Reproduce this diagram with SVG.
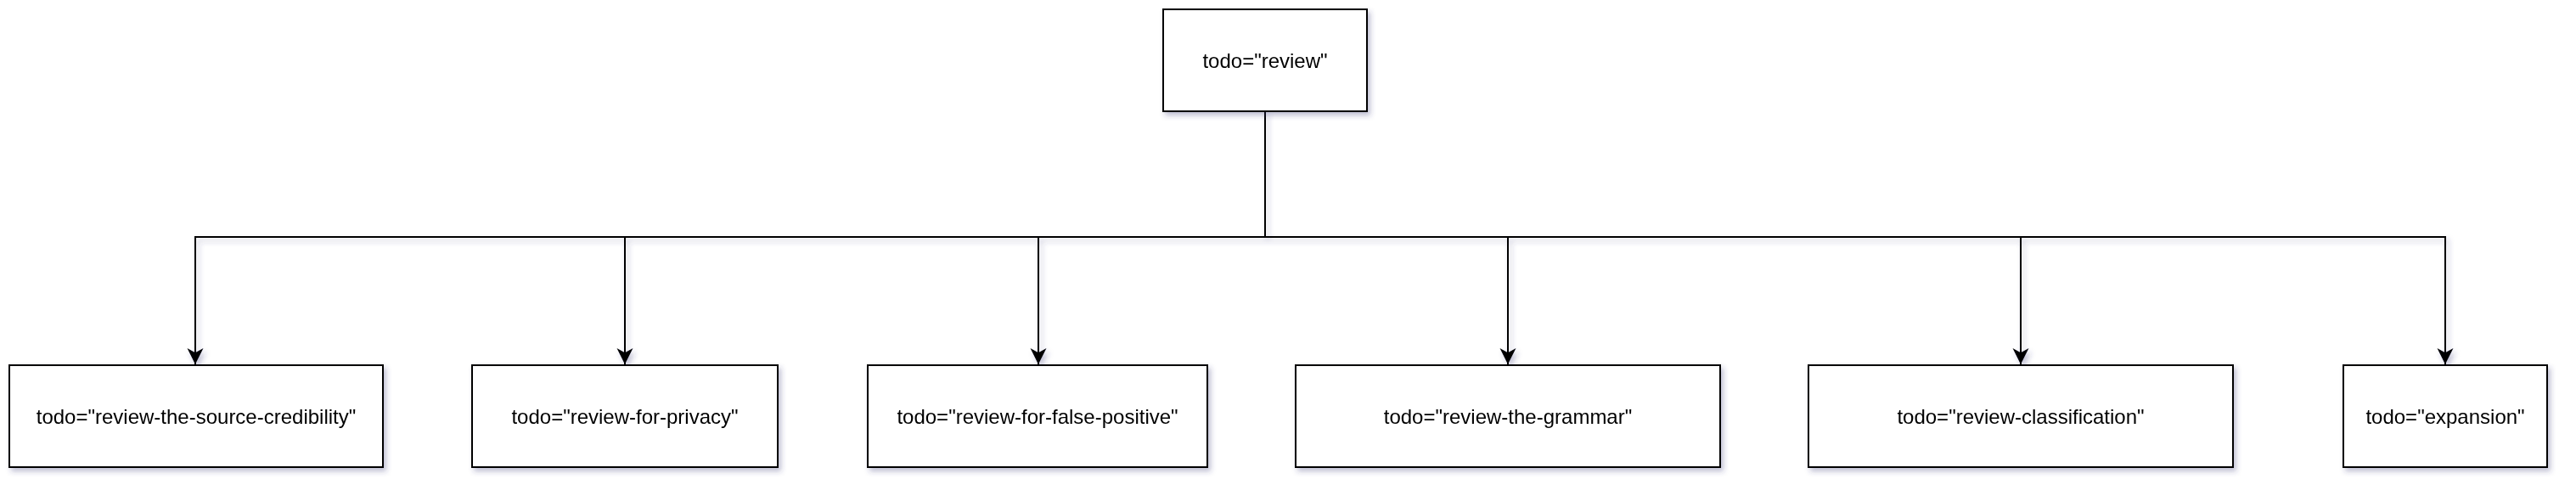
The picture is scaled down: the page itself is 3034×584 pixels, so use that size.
<svg xmlns="http://www.w3.org/2000/svg" width="3034" height="584" viewBox="0 0 3034 584">
<defs>
<style>
.box{fill:#ffffff;stroke:#000000;stroke-width:2}
.lbl{font-family:"Liberation Sans",Arial,sans-serif;font-size:24px;fill:#000000;text-anchor:middle;dominant-baseline:central}
.edge{fill:none;stroke:#000000;stroke-width:2}
</style>
<filter id="sh" x="-10%" y="-10%" width="130%" height="140%">
<feDropShadow dx="3" dy="4" stdDeviation="3" flood-color="#303078" flood-opacity="0.32"/>
</filter>
<marker id="arr" markerUnits="userSpaceOnUse" markerWidth="20" markerHeight="20" refX="18" refY="9" orient="auto" viewBox="0 0 19 18">
<path d="M0,0 L18,9 L0,18 L5,9 Z" fill="#000000"/>
</marker>
</defs>
<rect width="3034" height="584" fill="#ffffff"/>
<g id="connectors" filter="url(#sh)">
<path class="edge" d="M1490,131 V279 H230 V429" marker-end="url(#arr)"/>
<path class="edge" d="M1490,131 V279 H736 V429" marker-end="url(#arr)"/>
<path class="edge" d="M1490,131 V279 H1223 V429" marker-end="url(#arr)"/>
<path class="edge" d="M1490,131 V279 H1776 V429" marker-end="url(#arr)"/>
<path class="edge" d="M1490,131 V279 H2380 V429" marker-end="url(#arr)"/>
<path class="edge" d="M1490,131 V279 H2880 V429" marker-end="url(#arr)"/>
</g>
<g id="node-review" filter="url(#sh)">
<rect class="box" x="1370" y="11" width="240" height="120"/>
<text class="lbl" x="1490" y="71">todo="review"</text>
</g>
<g id="node-source-credibility" filter="url(#sh)">
<rect class="box" x="11" y="430" width="440" height="120"/>
<text class="lbl" x="231" y="490">todo="review-the-source-credibility"</text>
</g>
<g id="node-privacy" filter="url(#sh)">
<rect class="box" x="556" y="430" width="360" height="120"/>
<text class="lbl" x="736" y="490">todo="review-for-privacy"</text>
</g>
<g id="node-false-positive" filter="url(#sh)">
<rect class="box" x="1022" y="430" width="400" height="120"/>
<text class="lbl" x="1222" y="490">todo="review-for-false-positive"</text>
</g>
<g id="node-grammar" filter="url(#sh)">
<rect class="box" x="1526" y="430" width="500" height="120"/>
<text class="lbl" x="1776" y="490">todo="review-the-grammar"</text>
</g>
<g id="node-classification" filter="url(#sh)">
<rect class="box" x="2130" y="430" width="500" height="120"/>
<text class="lbl" x="2380" y="490">todo="review-classification"</text>
</g>
<g id="node-expansion" filter="url(#sh)">
<rect class="box" x="2760" y="430" width="240" height="120"/>
<text class="lbl" x="2880" y="490">todo="expansion"</text>
</g>
</svg>
